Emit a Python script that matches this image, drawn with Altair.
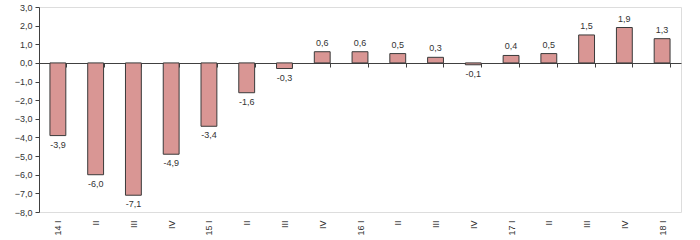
import altair as alt
import pandas as pd

labels = ["14 I", "II", "III", "IV", "15 I", "II", "III", "IV",
          "16 I", "II", "III", "IV", "17 I", "II", "III", "IV", "18 I"]
values = [-3.9, -6.0, -7.1, -4.9, -3.4, -1.6, -0.3, 0.6,
          0.6, 0.5, 0.3, -0.1, 0.4, 0.5, 1.5, 1.9, 1.3]

df = pd.DataFrame({
    "idx": list(range(len(values))),
    "value": values,
    "txt": [f"{v:.1f}".replace(".", ",") for v in values],
})

label_arr = "[" + ",".join(f"'{l}'" for l in labels) + "]"
FONT = "Liberation Sans"
AX = "#404040"

x_enc = alt.X(
    "idx:O",
    scale=alt.Scale(paddingInner=0.58, paddingOuter=0.29),
    axis=alt.Axis(
        title=None, orient="bottom", offset=-149,
        domain=True, domainColor=AX, ticks=True, tickColor=AX,
        tickSize=4, tickBand="extent", grid=False,
        labelAngle=270, labelAlign="right", labelBaseline="middle",
        labelPadding=153, labelFontSize=9, labelFont=FONT, labelColor="#333333",
        labelExpr=label_arr + "[datum.value]",
    ),
)
y_enc = alt.Y(
    "value:Q",
    scale=alt.Scale(domain=[-8, 3], nice=False, zero=False),
    axis=alt.Axis(
        title=None, values=list(range(-8, 4)), grid=False,
        domainColor=AX, tickColor=AX, tickSize=4, labelOverlap=False,
        labelFontSize=9, labelFont=FONT, labelColor="#333333", labelPadding=3,
        labelExpr="replace(format(datum.value, '.1f'), '.', ',')",
    ),
)

base = alt.Chart(df).encode(x=x_enc, y=y_enc)

bars = base.mark_bar(color="#D99694", stroke="#3a3a3a", strokeWidth=1)

neg_txt = base.transform_filter("datum.value < 0").mark_text(
    baseline="top", dy=5, fontSize=9, font=FONT, color="#333333"
).encode(text="txt:N")
pos_txt = base.transform_filter("datum.value >= 0").mark_text(
    baseline="bottom", dy=-4, fontSize=9, font=FONT, color="#333333"
).encode(text="txt:N")

chart = alt.layer(bars, neg_txt, pos_txt).properties(
    width=642, height=205,
    autosize=alt.AutoSizeParams(type="none"),
    padding={"left": 39, "top": 7, "right": 19, "bottom": 28},
).configure_view(stroke=None).configure(background="white")

chart.save("out.html", embed_options={"renderer": "svg", "actions": False})
